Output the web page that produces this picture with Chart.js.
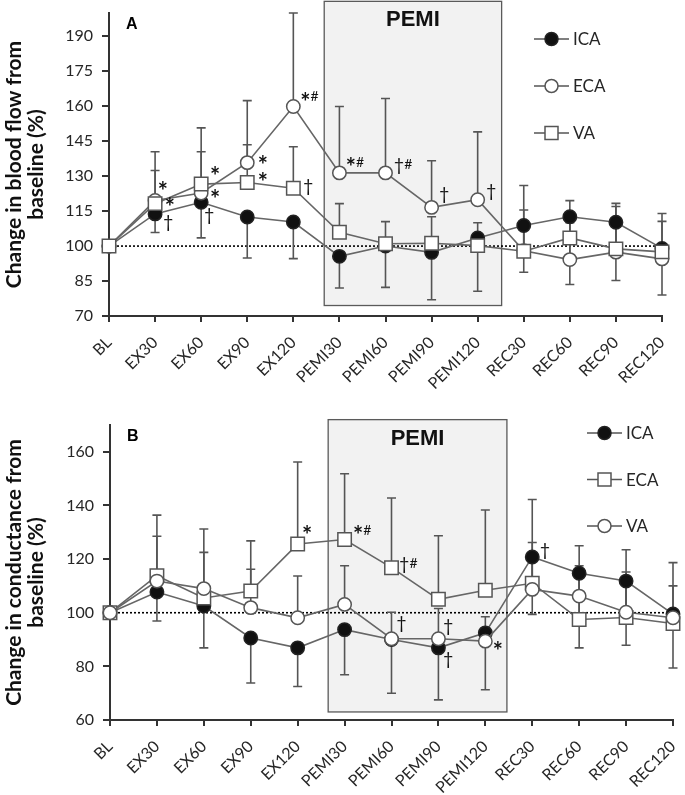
<!DOCTYPE html>
<html><head><meta charset="utf-8">
<script src="https://cdn.jsdelivr.net/npm/chart.js@4/dist/chart.umd.min.js"></script>
<style>
html,body{margin:0;padding:0;background:#fff;}
#wrap{position:relative;width:685px;height:795px;overflow:hidden;}
#cA{position:absolute;left:0;top:0;}
#cB{position:absolute;left:0;top:395px;}
</style></head><body>
<div id="wrap"><canvas id="cA" width="685" height="395"></canvas><canvas id="cB" width="685" height="400"></canvas></div>
<script>
// ---------- shared categories ----------
const categories = ['BL','EX30','EX60','EX90','EX120','PEMI30','PEMI60','PEMI90','PEMI120','REC30','REC60','REC90','REC120'];

// ---------- Panel A: blood flow (%) ----------
const yTicksA = [70,85,100,115,130,145,160,175,190];
const icaA      = [100,113.8,118.8,112.5,110.3,95.6,100,97.3,103.5,108.8,112.6,110.2,99];
const icaA_low  = [null,105.8,103.5,94.9,94.6,82,82.3,77,80.6,88.8,83.5,85.2,79];
const ecaA      = [100,119.6,122.8,135.8,159.9,131.4,131.4,116.6,119.9,98,94.2,97.4,94.5];
const ecaA_high = [null,140.5,150.7,162.4,200,159.9,163.3,136.6,149,126,119.5,118.3,114];
const vaA       = [100,118.2,126.6,127.3,124.8,105.9,101,101.2,100.2,97.8,103.5,98.8,97.5];
const vaA_high  = [null,132.4,140.5,143.5,142.6,118.2,110.5,112.6,110,115.5,110,117,110.6];
// significance marks: [category position, value, text]
const marksA = [
  [1.06,125.1,'*'],[1.21,118.2,'*'],[1.17,110.1,'†'],
  [2.19,131.5,'*'],[2.19,121.6,'*'],[2.06,113.1,'†'],
  [3.23,136.6,'*'],[3.23,128.9,'*'],
  [4.15,163.6,'*#'],[4.21,125.9,'†'],
  [5.14,135.4,'*#'],[6.18,134.5,'†#'],[7.16,122.1,'†'],[8.18,123.4,'†']
];
const pemiA = {from:4.67, to:8.52, low:74.5, high:205};

// ---------- Panel B: conductance (%) ----------
const yTicksB = [60,80,100,120,140,160];
const icaB      = [100,107.7,102.5,90.6,86.9,93.7,90,86.9,92.5,120.8,114.7,111.8,99.5];
const icaB_low  = [null,96.9,86.9,73.8,72.5,76.9,70,67.5,71.3,99.4,86.9,87.9,79.4];
const ecaB      = [100,113.8,105.5,108.1,125.6,127.3,116.8,105,108.4,111,97.5,98.2,96];
const ecaB_high = [null,136.4,131.2,126.8,156.2,151.8,142.8,128.7,138.3,142.2,125,123.5,118.7];
const vaB       = [100,111.8,109,101.9,98.1,103.1,90.3,90.3,89.4,108.7,106.2,100.2,98.1];
const vaB_high  = [null,128.5,122.5,116.2,113.7,117.5,100.2,101.6,98.5,126.2,117.5,115.2,110];
const marksB = [
  [4.09,130.4,'*'],[5.18,130.4,'*#'],[6.16,118.1,'†#'],[6.10,96,'†'],
  [7.10,94.9,'†'],[7.10,82.5,'†'],[8.16,87,'*'],[9.16,123.3,'†']
];
const pemiB = {from:4.65, to:8.46, low:63, high:172};

Chart.defaults.font.family = 'Lato, "DejaVu Sans", sans-serif';
Chart.defaults.color = '#262626';

const panelPlugin = {
  id: 'panel',
  beforeDatasetsDraw(chart, args, o) {
    const {ctx, chartArea: ca, scales: {y}} = chart;
    const n = categories.length;
    const xAt = i => ca.left + (ca.right - ca.left) * i / (n - 1);
    ctx.save();
    // PEMI box
    const bx0 = xAt(o.box.from), bx1 = xAt(o.box.to);
    const by0 = y.getPixelForValue(o.box.high), by1 = y.getPixelForValue(o.box.low);
    ctx.fillStyle = '#f2f2f2';
    ctx.fillRect(bx0, by0, bx1 - bx0, by1 - by0);
    ctx.strokeStyle = '#5a5a5a'; ctx.lineWidth = 1.3;
    ctx.strokeRect(bx0, by0, bx1 - bx0, by1 - by0);
    ctx.fillStyle = '#111'; ctx.font = 'bold 22px "Liberation Sans", Arial, sans-serif';
    ctx.textAlign = 'center'; ctx.textBaseline = 'alphabetic';
    ctx.fillText('PEMI', (bx0 + bx1) / 2, by0 + 25);
    // dotted baseline
    const yb = y.getPixelForValue(100);
    ctx.setLineDash([2, 2]); ctx.strokeStyle = '#000'; ctx.lineWidth = 1.6;
    ctx.beginPath(); ctx.moveTo(ca.left, yb); ctx.lineTo(ca.right + 2, yb); ctx.stroke();
    ctx.setLineDash([]);
    // error bars
    ctx.strokeStyle = '#555'; ctx.lineWidth = 1.6;
    chart.data.datasets.forEach((ds, di) => {
      const meta = chart.getDatasetMeta(di);
      [ds.errLow, ds.errHigh].forEach(arr => {
        if (!arr) return;
        arr.forEach((v, i) => {
          if (v == null) return;
          const p = meta.data[i];
          const py = y.getPixelForValue(v);
          ctx.beginPath();
          ctx.moveTo(p.x, p.y); ctx.lineTo(p.x, py);
          ctx.moveTo(p.x - 4.5, py); ctx.lineTo(p.x + 4.5, py);
          ctx.stroke();
        });
      });
    });
    ctx.restore();
  },
  afterDraw(chart, args, o) {
    const {ctx, chartArea: ca, scales: {y}} = chart;
    const n = categories.length;
    const xAt = i => ca.left + (ca.right - ca.left) * i / (n - 1);
    ctx.save();
    // significance marks
    ctx.fillStyle = '#111'; ctx.textAlign = 'left'; ctx.textBaseline = 'middle';
    o.marks.forEach(([xi, v, t]) => {
      let px = xAt(xi); const py = y.getPixelForValue(v);
      for (const ch of t) {
        let font, dy = 0;
        if (ch === '*') { font = 'bold 24px Lato, "DejaVu Sans", sans-serif'; dy = 5; }
        else if (ch === '#') { font = '14px Lato, "DejaVu Sans", sans-serif'; dy = -1; }
        else { font = '18px Lato, "DejaVu Sans", sans-serif'; dy = 0; }
        ctx.font = font;
        ctx.fillText(ch, px, py + dy);
        px += ctx.measureText(ch).width;
      }
    });
    // legend
    o.legend.items.forEach((it, k) => {
      const ly = o.legend.y + k * o.legend.gap;
      const lx0 = o.legend.x, lx1 = lx0 + 35, mx = (lx0 + lx1) / 2;
      ctx.strokeStyle = '#555'; ctx.lineWidth = 1.6;
      ctx.beginPath(); ctx.moveTo(lx0, ly); ctx.lineTo(lx1, ly); ctx.stroke();
      ctx.lineWidth = 1.5;
      if (it.style === 'rect') {
        ctx.fillStyle = it.fill; ctx.strokeStyle = it.stroke;
        ctx.fillRect(mx - 6.5, ly - 6.5, 13, 13); ctx.strokeRect(mx - 6.5, ly - 6.5, 13, 13);
      } else {
        ctx.fillStyle = it.fill; ctx.strokeStyle = it.stroke;
        ctx.beginPath(); ctx.arc(mx, ly, 6.5, 0, Math.PI * 2); ctx.fill(); ctx.stroke();
      }
      ctx.fillStyle = '#262626'; ctx.font = '17px Lato, sans-serif';
      ctx.textAlign = 'left'; ctx.textBaseline = 'middle';
      ctx.fillText(it.label, lx1 + 4, ly + 1);
    });
    // panel letter
    ctx.fillStyle = '#000'; ctx.font = 'bold 16px "Liberation Sans", Arial, sans-serif';
    ctx.textAlign = 'left'; ctx.textBaseline = 'alphabetic';
    ctx.fillText(o.letter, ca.left + 17, ca.top + 16);
    // y title (two lines)
    const cy = (ca.top + ca.bottom) / 2;
    ctx.font = 'bold 21px Lato, sans-serif'; ctx.fillStyle = '#111';
    ctx.textAlign = 'center'; ctx.textBaseline = 'middle';
    o.title.forEach((line, k) => {
      ctx.save(); ctx.translate(14 + k * 22, cy); ctx.rotate(-Math.PI / 2);
      ctx.fillText(line, 0, 0); ctx.restore();
    });
    ctx.restore();
  }
};

function series(label, data, style, fill, low, high, order) {
  return {
    label, data, errLow: low, errHigh: high, order,
    borderColor: '#666', borderWidth: 1.6, tension: 0, fill: false,
    pointStyle: style, pointRadius: style === 'rect' ? 9.5 : 6.7, pointHoverRadius: style === 'rect' ? 9.5 : 6.7,
    pointBackgroundColor: fill, pointBorderColor: fill === '#fff' ? '#555' : '#222', pointBorderWidth: 1.5,
    clip: false
  };
}

function makeChart(id, cfg) {
  return new Chart(document.getElementById(id), {
    type: 'line',
    data: { labels: categories, datasets: cfg.datasets },
    options: {
      responsive: false, animation: false, events: [],
      layout: { padding: { top: cfg.padTop, right: cfg.padRight, left: 0, bottom: 0 } },
      plugins: { legend: { display: false }, tooltip: { enabled: false },
        panel: { box: cfg.box, marks: cfg.marks, legend: cfg.legend, letter: cfg.letter, title: cfg.title } },
      scales: {
        x: {
          type: 'category', offset: false,
          grid: { drawOnChartArea: false, drawTicks: true, tickLength: 6, color: '#333', lineWidth: 2 },
          border: { display: true, color: '#333', width: 2 },
          ticks: { minRotation: 45, maxRotation: 45, autoSkip: false, padding: 11, font: { size: 16 }, color: '#262626' },
          afterFit: s => { s.height = cfg.xHeight; s.paddingLeft = 0; s.paddingRight = 0; }
        },
        y: {
          min: cfg.ymin, max: cfg.ymax,
          grid: { drawOnChartArea: false, drawTicks: true, tickLength: 7, color: '#333', lineWidth: 2 },
          border: { display: true, color: '#333', width: 2 },
          ticks: { padding: 9, font: { size: 16 }, color: '#262626' },
          afterBuildTicks: s => { s.ticks = cfg.yTicks.map(v => ({ value: v })); },
          afterFit: s => { s.width = cfg.yWidth; s.paddingTop = 0; s.paddingBottom = 0; }
        }
      }
    },
    plugins: [panelPlugin]
  });
}

makeChart('cA', {
  datasets: [
    series('ICA', icaA, 'circle', '#111', icaA_low, null, 3),
    series('ECA', ecaA, 'circle', '#fff', null, ecaA_high, 2),
    series('VA', vaA, 'rect', '#fff', null, vaA_high, 1)
  ],
  yTicks: yTicksA, ymin: 70, ymax: 200, padTop: 13, padRight: 23, xHeight: 79, yWidth: 109,
  box: pemiA, marks: marksA, letter: 'A',
  title: ['Change in blood flow from', 'baseline (%)'],
  legend: { x: 534, y: 39, gap: 47, items: [
    { label: 'ICA', style: 'circle', fill: '#111', stroke: '#222' },
    { label: 'ECA', style: 'circle', fill: '#fff', stroke: '#555' },
    { label: 'VA', style: 'rect', fill: '#fff', stroke: '#555' } ] }
});

makeChart('cB', {
  datasets: [
    series('ICA', icaB, 'circle', '#111', icaB_low, null, 3),
    series('ECA', ecaB, 'rect', '#fff', null, ecaB_high, 2),
    series('VA', vaB, 'circle', '#fff', null, vaB_high, 1)
  ],
  yTicks: yTicksB, ymin: 60, ymax: 170, padTop: 30, padRight: 12, xHeight: 75, yWidth: 110,
  box: pemiB, marks: marksB, letter: 'B',
  title: ['Change in conductance from', 'baseline (%)'],
  legend: { x: 587, y: 38, gap: 46.5, items: [
    { label: 'ICA', style: 'circle', fill: '#111', stroke: '#222' },
    { label: 'ECA', style: 'rect', fill: '#fff', stroke: '#555' },
    { label: 'VA', style: 'circle', fill: '#fff', stroke: '#555' } ] }
});
</script>
</body></html>
